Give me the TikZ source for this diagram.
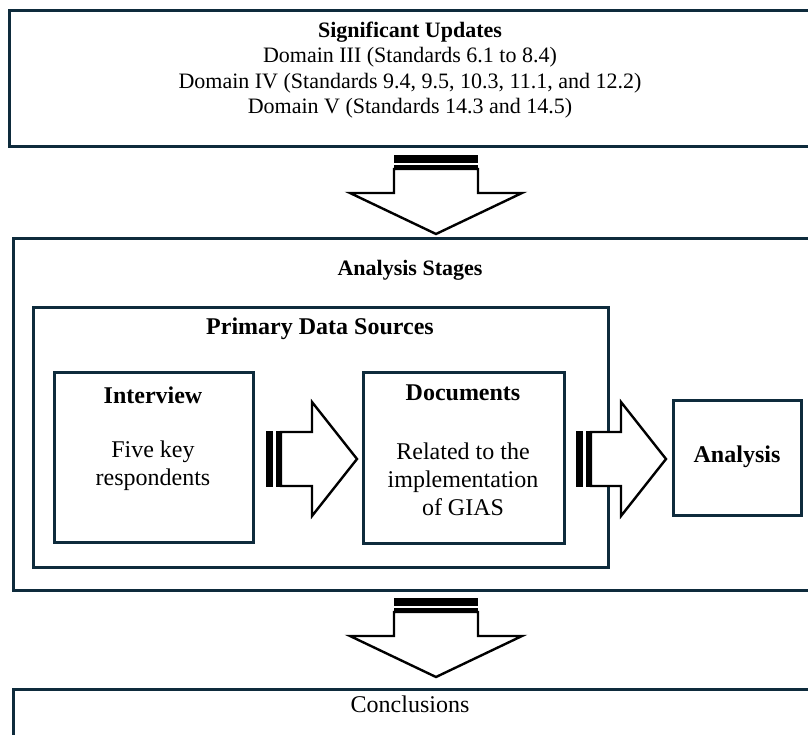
\documentclass[tikz,border=0pt]{standalone}
\usepackage{fontspec}
\setmainfont{Liberation Serif}
\usepackage{tikz}
\usetikzlibrary{positioning}

\definecolor{navy}{HTML}{0E2B3C}

\begin{document}
\begin{tikzpicture}[x=1pt, y=-1pt,
    frame/.style={draw=navy, line width=3pt},
    blockarrow/.style={draw=black, line width=2.4pt, line join=miter, fill=white},
    stripe/.style={fill=black},
    title/.style={font=\fontsize{22}{26}\selectfont\bfseries},
    bigtitle/.style={font=\fontsize{24}{28}\selectfont\bfseries},
    body/.style={font=\fontsize{22}{25.5}\selectfont, align=center},
    inner/.style={font=\fontsize{24}{28}\selectfont, align=center}]
    \useasboundingbox (0,0) rectangle (808,735);
    \clip (0,0) rectangle (808,735);

    % boxes
    \draw[frame] (9,11) rectangle (830,147);
    \draw[frame] (13,239) rectangle (830,590);
    \draw[frame] (33,307) rectangle (608,567);
    \draw[frame] (54,372) rectangle (253,542);
    \draw[frame] (363,372) rectangle (564,543);
    \draw[frame] (673,400) rectangle (801,515);
    \draw[frame] (13,689) rectangle (830,760);

    % texts
    \node[title] (updates) at (410,32) {Significant Updates};
    \node[body] (domains) at (410,83) {Domain III (Standards 6.1 to 8.4)\\
        Domain IV (Standards 9.4, 9.5, 10.3, 11.1, and 12.2)\\
        Domain V (Standards 14.3 and 14.5)};
    \node[title] (stages) at (410,270) {Analysis Stages};
    \node[bigtitle] (sources) at (320,329) {Primary Data Sources};
    \node[bigtitle] (interview) at (153,395) {Interview};
    \node[inner] (respondents) at (153,466) {Five key\\respondents};
    \node[bigtitle] (documents) at (463,393) {Documents};
    \node[inner] (related) at (463,479) {Related to the\\implementation\\of GIAS};
    \node[bigtitle] (analysis) at (737,457) {Analysis};
    \node[inner] (conclusions) at (410,704) {Conclusions};

    % down arrows
    \fill[stripe] (394,155) rectangle (478,163);
    \fill[stripe] (394,165) rectangle (478,169);
    \draw[blockarrow] (394,169) -- (394,193) -- (350,193) -- (436,234)
        -- (522,193) -- (478,193) -- (478,169) -- cycle;
    \fill[stripe] (394,598) rectangle (478,606);
    \fill[stripe] (394,608) rectangle (478,612);
    \draw[blockarrow] (394,612) -- (394,636) -- (350,636) -- (436,677)
        -- (522,636) -- (478,636) -- (478,612) -- cycle;

    % right arrows
    \fill[stripe] (266,431) rectangle (273,487);
    \fill[stripe] (275.5,431) rectangle (281,487);
    \draw[blockarrow] (281,432) -- (312,432) -- (312,402) -- (357,459)
        -- (312,516) -- (312,486) -- (281,486) -- cycle;
    \fill[stripe] (576,431) rectangle (583,487);
    \fill[stripe] (585.5,431) rectangle (591,487);
    \draw[blockarrow] (591,432) -- (621,432) -- (621,402) -- (666,459)
        -- (621,516) -- (621,486) -- (591,486) -- cycle;
\end{tikzpicture}
\end{document}
